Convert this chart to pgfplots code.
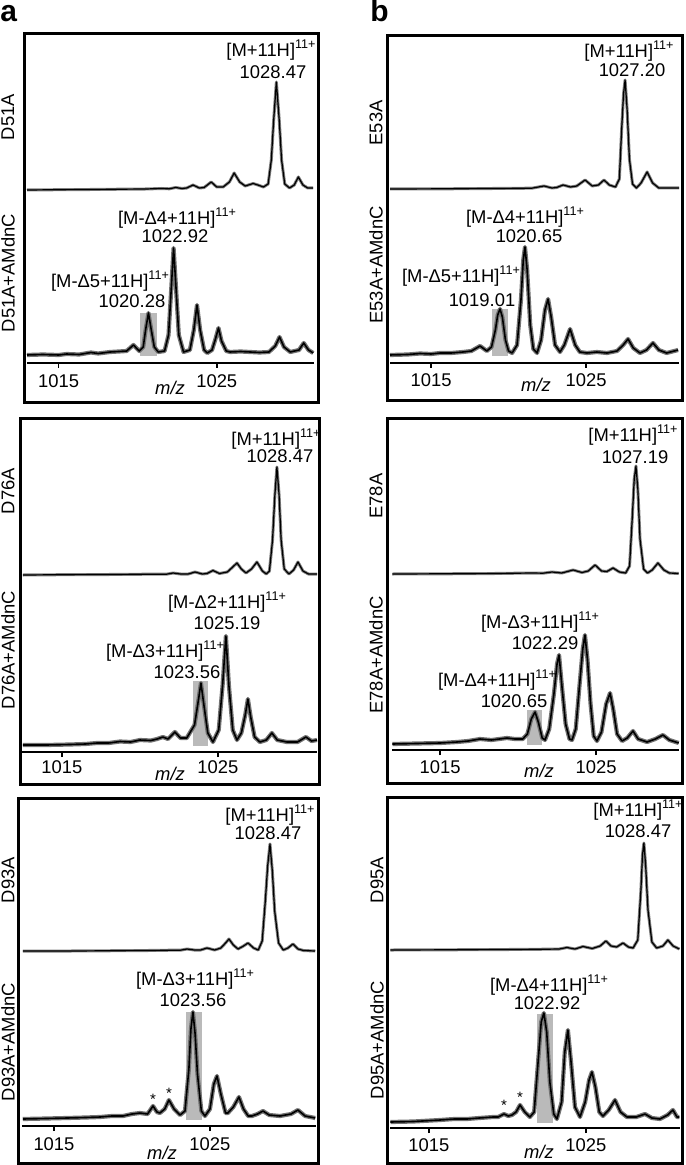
\documentclass[border=0pt]{standalone}
\usepackage{fontspec}
\setmainfont{Liberation Sans}
\usepackage{pgfplots}
\usepackage{pgfplotstable}
\pgfplotsset{compat=1.18}

\pgfplotstableread[row sep=\\]{x y\\
1013.0 0\\ 1015.0 0.3\\ 1017.0 0.5\\ 1019.0 0.8\\ 1020.5 1\\ 1021.5 1.5\\ 1022.0 1.2\\ 1022.4 2.5\\ 1022.8 1.5\\ 1023.1 2\\ 1023.5 5\\ 1023.9 2\\ 1024.2 2.5\\ 1024.65 8\\ 1025.0 3\\ 1025.4 3\\ 1025.8 8\\ 1026.1 17\\ 1026.45 8\\ 1026.8 4\\ 1027.0 5\\ 1027.3 6.5\\ 1027.6 5\\ 1027.95 3\\ 1028.25 6\\ 1028.45 30\\ 1028.6 70\\ 1028.77 108\\ 1028.95 70\\ 1029.1 30\\ 1029.3 6\\ 1029.6 2\\ 1029.9 5\\ 1030.16 13\\ 1030.45 5\\ 1030.75 2\\ 1031.1 2\\
}\aonet
\pgfplotstableread[row sep=\\]{x y\\
1013.0 0\\ 1014.0 0.5\\ 1015.0 0\\ 1015.5 1\\ 1016.3 0.5\\ 1017.04 2.5\\ 1017.5 1.5\\ 1018.26 3\\ 1018.8 3.5\\ 1019.3 4\\ 1019.73 10\\ 1020.1 4\\ 1020.35 8\\ 1020.5 25\\ 1020.68 42\\ 1020.86 25\\ 1021.05 8\\ 1021.3 3\\ 1021.7 4\\ 1021.95 20\\ 1022.1 60\\ 1022.27 107\\ 1022.45 60\\ 1022.6 20\\ 1022.9 3\\ 1023.3 5\\ 1023.55 25\\ 1023.75 50\\ 1023.95 25\\ 1024.2 5\\ 1024.4 2\\ 1024.7 5\\ 1024.9 15\\ 1025.11 27\\ 1025.3 14\\ 1025.6 4\\ 1025.85 3\\ 1026.5 3.5\\ 1027.12 3\\ 1027.7 2.5\\ 1028.3 3\\ 1028.7 9\\ 1028.97 18\\ 1029.25 8\\ 1029.65 3\\ 1030.2 5\\ 1030.5 12\\ 1030.8 5\\ 1031.1 2\\
}\aoneb
\pgfplotstableread[row sep=\\]{x y\\
1012.5 0\\ 1015 0.3\\ 1018 0.5\\ 1020.5 0.8\\ 1021.7 0.8\\ 1022.12 2\\ 1022.6 1\\ 1023.1 1\\ 1023.53 3\\ 1024.0 1\\ 1024.3 1.5\\ 1024.68 4.5\\ 1025.1 1.5\\ 1025.6 3\\ 1025.95 8\\ 1026.22 12\\ 1026.5 6\\ 1026.8 2\\ 1027.15 6\\ 1027.5 13\\ 1027.85 4\\ 1028.1 1\\ 1028.3 4\\ 1028.5 35\\ 1028.65 80\\ 1028.78 108\\ 1028.92 80\\ 1029.05 35\\ 1029.25 6\\ 1029.55 1\\ 1029.85 5\\ 1030.13 13\\ 1030.45 4\\ 1030.8 1\\ 1031.35 1\\
}\atwot
\pgfplotstableread[row sep=\\]{x y\\
1012.5 0\\ 1014.0 0\\ 1015.5 0.5\\ 1016.5 1\\ 1017.24 2\\ 1018.0 2\\ 1018.72 3.5\\ 1019.4 3\\ 1020.0 5\\ 1020.7 4.5\\ 1021.1 6\\ 1021.47 8\\ 1021.8 6\\ 1022.24 13\\ 1022.6 7\\ 1023.0 7\\ 1023.5 20\\ 1023.75 45\\ 1023.91 62\\ 1024.1 40\\ 1024.35 12\\ 1024.68 3\\ 1025.05 15\\ 1025.3 60\\ 1025.51 109\\ 1025.7 60\\ 1025.95 15\\ 1026.22 5\\ 1026.5 12\\ 1026.75 30\\ 1026.92 46\\ 1027.1 28\\ 1027.35 8\\ 1027.69 3\\ 1028.1 5\\ 1028.46 12\\ 1028.8 5\\ 1029.42 3\\ 1030.1 3\\ 1030.64 8\\ 1031.0 4\\ 1031.35 5\\
}\atwob
\pgfplotstableread[row sep=\\]{x y\\
1013.0 0\\ 1016 0\\ 1019 0.3\\ 1021 0.5\\ 1022.5 0.8\\ 1023.1 0.8\\ 1023.53 2\\ 1024.0 1\\ 1024.4 1\\ 1024.81 3\\ 1025.3 1\\ 1025.7 3\\ 1026.0 8\\ 1026.22 12\\ 1026.5 6\\ 1026.8 2\\ 1027.15 5\\ 1027.44 8\\ 1027.8 3\\ 1028.1 1\\ 1028.35 10\\ 1028.55 50\\ 1028.7 85\\ 1028.85 107\\ 1029.0 80\\ 1029.15 40\\ 1029.4 8\\ 1029.7 1\\ 1030.0 3\\ 1030.32 7\\ 1030.65 2\\ 1031.0 0.5\\ 1031.75 0\\
}\athreet
\pgfplotstableread[row sep=\\]{x y\\
1013.0 0\\ 1014.5 0.5\\ 1015.83 1\\ 1017.0 1.5\\ 1017.95 2\\ 1018.7 3\\ 1019.42 3\\ 1020.0 5\\ 1020.51 6\\ 1021.0 5\\ 1021.35 13\\ 1021.6 7\\ 1021.79 6\\ 1022.1 10\\ 1022.37 19\\ 1022.7 10\\ 1023.08 4\\ 1023.4 8\\ 1023.65 50\\ 1023.78 90\\ 1023.91 107\\ 1024.05 85\\ 1024.2 45\\ 1024.45 8\\ 1024.68 3\\ 1025.0 10\\ 1025.25 35\\ 1025.45 43\\ 1025.7 25\\ 1026.0 6\\ 1026.15 6\\ 1026.5 12\\ 1026.86 22\\ 1027.15 10\\ 1027.45 3\\ 1027.69 3\\ 1028.05 5\\ 1028.4 8\\ 1028.8 4\\ 1029.49 3\\ 1030.2 5\\ 1030.64 9\\ 1031.1 3\\ 1031.75 1\\
}\athreeb
\pgfplotstableread[row sep=\\]{x y\\
1012.35 0\\ 1016 0.2\\ 1019 0.5\\ 1021.5 0.8\\ 1022.29 3\\ 1022.8 1\\ 1023.1 1.5\\ 1023.52 4\\ 1024.0 2\\ 1024.4 3\\ 1024.94 9\\ 1025.4 3\\ 1025.8 4\\ 1026.16 9\\ 1026.5 4\\ 1026.9 2\\ 1027.15 10\\ 1027.3 60\\ 1027.42 95\\ 1027.52 109\\ 1027.65 80\\ 1027.8 30\\ 1028.0 5\\ 1028.25 1\\ 1028.55 6\\ 1028.94 17\\ 1029.3 6\\ 1029.7 1\\ 1030.3 1\\ 1031.0 1\\
}\bonet
\pgfplotstableread[row sep=\\]{x y\\
1012.35 0\\ 1013.5 0.5\\ 1014.29 1.5\\ 1015.0 1\\ 1015.58 2\\ 1016.3 2\\ 1017.06 3\\ 1017.6 4\\ 1018.16 9\\ 1018.6 4\\ 1018.9 8\\ 1019.15 25\\ 1019.3 40\\ 1019.45 46\\ 1019.6 38\\ 1019.8 15\\ 1020.0 4\\ 1020.23 2\\ 1020.55 10\\ 1020.8 55\\ 1020.95 95\\ 1021.06 108\\ 1021.2 85\\ 1021.4 30\\ 1021.6 6\\ 1021.84 2\\ 1022.1 15\\ 1022.35 45\\ 1022.55 56\\ 1022.75 38\\ 1023.0 10\\ 1023.32 3\\ 1023.6 10\\ 1023.97 26\\ 1024.3 10\\ 1024.6 3\\ 1025.06 2\\ 1025.7 3\\ 1026.35 2\\ 1027.0 4\\ 1027.4 10\\ 1027.71 16\\ 1028.05 7\\ 1028.48 2\\ 1028.9 5\\ 1029.32 12\\ 1029.7 5\\ 1030.2 2\\ 1030.94 5\\
}\boneb
\pgfplotstableread[row sep=\\]{x y\\
1011.95 0\\ 1015 0.2\\ 1018 0.4\\ 1020.9 1\\ 1021.6 0.8\\ 1022.18 2\\ 1022.8 1\\ 1023.53 4\\ 1024.1 1.5\\ 1024.5 3\\ 1024.94 9\\ 1025.35 3\\ 1025.7 2.5\\ 1026.09 6\\ 1026.5 2\\ 1026.9 1\\ 1027.15 8\\ 1027.32 55\\ 1027.45 95\\ 1027.56 108\\ 1027.68 85\\ 1027.82 35\\ 1028.05 5\\ 1028.3 1\\ 1028.6 4\\ 1028.97 11\\ 1029.35 4\\ 1029.7 1\\ 1030.3 0.5\\
}\btwot
\pgfplotstableread[row sep=\\]{x y\\
1011.95 0\\ 1013.5 0.5\\ 1015.0 1\\ 1016.09 2\\ 1016.8 3\\ 1017.56 5\\ 1018.3 4\\ 1018.8 5\\ 1019.29 6\\ 1019.8 5\\ 1020.3 5\\ 1020.6 10\\ 1020.85 25\\ 1021.09 32\\ 1021.3 22\\ 1021.55 6\\ 1021.73 4\\ 1022.0 15\\ 1022.3 50\\ 1022.5 80\\ 1022.63 89\\ 1022.8 60\\ 1023.05 20\\ 1023.3 5\\ 1023.46 4\\ 1023.7 15\\ 1023.95 60\\ 1024.15 95\\ 1024.29 109\\ 1024.45 85\\ 1024.65 40\\ 1024.85 8\\ 1025.06 3\\ 1025.35 12\\ 1025.65 40\\ 1025.9 51\\ 1026.1 35\\ 1026.35 10\\ 1026.67 3\\ 1027.0 6\\ 1027.37 13\\ 1027.7 5\\ 1028.27 2\\ 1028.8 5\\ 1029.29 9\\ 1029.7 4\\ 1030.3 1\\
}\btwob
\pgfplotstableread[row sep=\\]{x y\\
1012.55 0\\ 1016 0.2\\ 1020 0.5\\ 1022.5 0.8\\ 1023.3 1\\ 1023.79 2.5\\ 1024.3 1\\ 1024.81 3.5\\ 1025.4 1.5\\ 1025.9 4\\ 1026.27 9\\ 1026.6 4\\ 1026.95 3\\ 1027.36 7\\ 1027.7 3\\ 1028.0 2\\ 1028.3 10\\ 1028.5 60\\ 1028.6 95\\ 1028.69 107\\ 1028.8 85\\ 1028.95 40\\ 1029.2 8\\ 1029.5 2\\ 1029.9 4\\ 1030.22 10\\ 1030.55 4\\ 1030.95 1\\
}\bthreet
\pgfplotstableread[row sep=\\]{x y\\
1012.55 0\\ 1014.0 0.5\\ 1015.7 2\\ 1016.6 3\\ 1017.42 3\\ 1018.2 4\\ 1019.08 5\\ 1019.4 5\\ 1019.78 8\\ 1020.05 6\\ 1020.29 7\\ 1020.55 10\\ 1020.8 17\\ 1021.1 10\\ 1021.43 5\\ 1021.7 10\\ 1021.95 60\\ 1022.15 100\\ 1022.32 109\\ 1022.5 90\\ 1022.7 40\\ 1022.95 8\\ 1023.15 3\\ 1023.45 20\\ 1023.65 70\\ 1023.85 92\\ 1024.05 60\\ 1024.3 15\\ 1024.62 5\\ 1024.95 20\\ 1025.2 42\\ 1025.38 50\\ 1025.6 35\\ 1025.85 10\\ 1026.08 6\\ 1026.45 12\\ 1026.85 22\\ 1027.2 10\\ 1027.61 5\\ 1028.2 5\\ 1028.76 8\\ 1029.2 4\\ 1029.71 3\\ 1030.2 7\\ 1030.54 12\\ 1030.8 5\\ 1030.95 5\\
}\bthreeb

\pgfplotsset{
  topax/.style={scale only axis, clip=false, anchor=south west, axis lines=none, xtick=\empty, ytick=\empty},
  botax/.style={scale only axis, clip=false, anchor=south west, axis x line=bottom, axis y line=none,
    x axis line style={-, line width=1.1pt}, ytick=\empty, xtick={1015,1025}, xticklabels={,,},
    tick align=outside, major tick length=2.5pt, every tick/.style={black, line width=0.8pt}},
  halo/.style={black!55, line width=2.1pt, line join=round, no marks},
  halot/.style={black!50, line width=1.5pt, line join=round, no marks},
  core/.style={black, line width=0.8pt, line join=round, no marks},
  coret/.style={black, line width=0.6pt, line join=round, no marks},
}
\tikzset{
  lbl/.style={font=\fontsize{9.2}{10}\selectfont, inner sep=0pt, anchor=base},
  ylb/.style={font=\fontsize{9.2}{10}\selectfont, inner sep=0pt, anchor=center, rotate=90},
  hl/.style={fill=black!27},
  box/.style={line width=1.5pt},
}
\newcommand{\ch}{\raisebox{4pt}{\fontsize{6.3}{6}\selectfont 11+}}

\begin{document}
\begin{tikzpicture}
\useasboundingbox (0,0) rectangle (342.5pt,-582.5pt);

% ---------- a1 ----------
\begin{axis}[topax, at={(13.5pt,-95pt)}, width=143.5pt, height=76.5pt, xmin=1013.0, xmax=1031.15, ymin=0, ymax=153]
\addplot[halot] table {\aonet};
\addplot[coret] table {\aonet};
\end{axis}
\begin{axis}[botax, at={(13.5pt,-181.5pt)}, width=143.5pt, height=86.5pt, xmin=1013.0, xmax=1031.15, ymin=-8, ymax=165]
\fill[hl] (axis cs:1020.16,-1) rectangle (axis cs:1021.23,42);
\addplot[halo] table {\aoneb};
\addplot[core] table {\aoneb};
\node[lbl, yshift=-12.5pt] at (axis cs:1015,-8) {1015};
\node[lbl, yshift=-12.5pt] at (axis cs:1025,-8) {1025};
\end{axis}

% ---------- b1 ----------
\begin{axis}[topax, at={(195pt,-94.5pt)}, width=144.5pt, height=75pt, xmin=1012.35, xmax=1031.0, ymin=0, ymax=150]
\addplot[halot] table {\bonet};
\addplot[coret] table {\bonet};
\end{axis}
\begin{axis}[botax, at={(195pt,-181.5pt)}, width=144.5pt, height=87pt, xmin=1012.35, xmax=1031.0, ymin=-8, ymax=166]
\fill[hl] (axis cs:1018.94,-1) rectangle (axis cs:1019.97,46);
\addplot[halo] table {\boneb};
\addplot[core] table {\boneb};
\node[lbl, yshift=-12pt] at (axis cs:1015,-8) {1015};
\node[lbl, yshift=-12pt] at (axis cs:1025,-8) {1025};
\end{axis}

% ---------- a2 ----------
\begin{axis}[topax, at={(11pt,-287.5pt)}, width=147.5pt, height=75pt, xmin=1012.44, xmax=1031.35, ymin=0, ymax=150]
\addplot[halot] table {\atwot};
\addplot[coret] table {\atwot};
\end{axis}
\begin{axis}[botax, at={(11pt,-376pt)}, width=147.5pt, height=88.5pt, xmin=1012.44, xmax=1031.35, ymin=-7, ymax=170]
\fill[hl] (axis cs:1023.4,-1) rectangle (axis cs:1024.36,64);
\addplot[halo] table {\atwob};
\addplot[core] table {\atwob};
\node[lbl, yshift=-10.5pt] at (axis cs:1015,-7) {1015};
\node[lbl, yshift=-10.5pt] at (axis cs:1025,-7) {1025};
\end{axis}

% ---------- b2 ----------
\begin{axis}[topax, at={(196pt,-287pt)}, width=143.5pt, height=75pt, xmin=1011.92, xmax=1030.32, ymin=0, ymax=150]
\addplot[halot] table {\btwot};
\addplot[coret] table {\btwot};
\end{axis}
\begin{axis}[botax, at={(196pt,-375pt)}, width=143.5pt, height=88pt, xmin=1011.92, xmax=1030.32, ymin=-6, ymax=170]
\fill[hl] (axis cs:1020.58,-1) rectangle (axis cs:1021.54,34);
\addplot[halo] table {\btwob};
\addplot[core] table {\btwob};
\node[lbl, yshift=-11.5pt] at (axis cs:1015,-6) {1015};
\node[lbl, yshift=-11.5pt] at (axis cs:1025,-6) {1025};
\end{axis}

% ---------- a3 ----------
\begin{axis}[topax, at={(11pt,-475.5pt)}, width=147pt, height=75pt, xmin=1012.95, xmax=1031.8, ymin=0, ymax=150]
\addplot[halot] table {\athreet};
\addplot[coret] table {\athreet};
\end{axis}
\begin{axis}[botax, at={(11pt,-563pt)}, width=147pt, height=87.5pt, xmin=1012.95, xmax=1031.8, ymin=-7, ymax=168]
\fill[hl] (axis cs:1023.46,-1) rectangle (axis cs:1024.49,107);
\addplot[halo] table {\athreeb};
\addplot[core] table {\athreeb};
\node[lbl, yshift=-12pt] at (axis cs:1015,-7) {1015};
\node[lbl, yshift=-12pt] at (axis cs:1025,-7) {1025};
\end{axis}

% ---------- b3 ----------
\begin{axis}[topax, at={(195pt,-475pt)}, width=145pt, height=75pt, xmin=1012.52, xmax=1030.99, ymin=0, ymax=150]
\addplot[halot] table {\bthreet};
\addplot[coret] table {\bthreet};
\end{axis}
\begin{axis}[botax, at={(195pt,-564pt)}, width=145pt, height=89pt, xmin=1012.52, xmax=1030.99, ymin=-6, ymax=172]
\fill[hl] (axis cs:1021.88,-1) rectangle (axis cs:1022.9,108);
\addplot[halo] table {\bthreeb};
\addplot[core] table {\bthreeb};
\node[lbl, yshift=-11.5pt] at (axis cs:1015,-6) {1015};
\node[lbl, yshift=-11.5pt] at (axis cs:1025,-6) {1025};
\end{axis}

% ---------- frames ----------
\draw[box] (12pt,-17pt) rectangle (159pt,-201.5pt);
\draw[box] (193.5pt,-18pt) rectangle (341pt,-200.5pt);
\draw[box] (10pt,-209pt) rectangle (159.5pt,-392pt);
\draw[box] (193.5pt,-209pt) rectangle (341pt,-391.5pt);
\draw[box] (9pt,-399pt) rectangle (159pt,-581.5pt);
\draw[box] (193.5pt,-398.5pt) rectangle (341pt,-581.5pt);

% ---------- panel letters ----------
\node[font=\bfseries\fontsize{15}{15}\selectfont, inner sep=0pt, anchor=base west] at (0pt,-11pt) {a};
\node[font=\bfseries\fontsize{15}{15}\selectfont, inner sep=0pt, anchor=base west] at (185pt,-11pt) {b};

% ---------- y labels ----------
\node[ylb] at (4pt,-58.5pt) {D51A};
\node[ylb] at (4pt,-136.5pt) {D51A+AMdnC};
\node[ylb] at (188pt,-61.5pt) {E53A};
\node[ylb] at (188pt,-132.5pt) {E53A+AMdnC};
\node[ylb] at (4pt,-245.5pt) {D76A};
\node[ylb] at (4pt,-325pt) {D76A+AMdnC};
\node[ylb] at (188pt,-248pt) {E78A};
\node[ylb] at (188pt,-327.5pt) {E78A+AMdnC};
\node[ylb] at (4pt,-440pt) {D93A};
\node[ylb] at (4pt,-521pt) {D93A+AMdnC};
\node[ylb] at (188.5pt,-440pt) {D95A};
\node[ylb] at (188.5pt,-520pt) {D95A+AMdnC};

% ---------- m/z ----------
\node[lbl] at (85pt,-197pt) {\textit{m/z}};
\node[lbl] at (268pt,-196pt) {\textit{m/z}};
\node[lbl] at (85pt,-390pt) {\textit{m/z}};
\node[lbl] at (269.5pt,-388.5pt) {\textit{m/z}};
\node[lbl] at (81pt,-579.5pt) {\textit{m/z}};
\node[lbl] at (269.5pt,-579pt) {\textit{m/z}};

% ---------- peak labels ----------
\node[lbl] at (135.5pt,-28.5pt) {[M+11H]\ch};
\node[lbl] at (136.5pt,-39.5pt) {1028.47};
\node[lbl] at (88.5pt,-112.5pt) {[M-Δ4+11H]\ch};
\node[lbl] at (87.5pt,-121.5pt) {1022.92};
\node[lbl] at (55pt,-144pt) {[M-Δ5+11H]\ch};
\node[lbl] at (66pt,-154pt) {1020.28};

\node[lbl] at (314.5pt,-29pt) {[M+11H]\ch};
\node[lbl] at (316pt,-38.5pt) {1027.20};
\node[lbl] at (262.5pt,-112pt) {[M-Δ4+11H]\ch};
\node[lbl] at (264.5pt,-121.5pt) {1020.65};
\node[lbl] at (230.5pt,-141.5pt) {[M-Δ5+11H]\ch};
\node[lbl] at (241pt,-153.5pt) {1019.01};

\node[lbl] at (138pt,-222.5pt) {[M+11H]\ch};
\node[lbl] at (140pt,-231pt) {1028.47};
\node[lbl] at (113.5pt,-304pt) {[M-Δ2+11H]\ch};
\node[lbl] at (113.5pt,-314.5pt) {1025.19};
\node[lbl] at (82.5pt,-328.5pt) {[M-Δ3+11H]\ch};
\node[lbl] at (93.5pt,-339pt) {1023.56};

\node[lbl] at (316.5pt,-220.5pt) {[M+11H]\ch};
\node[lbl] at (317.5pt,-231.5pt) {1027.19};
\node[lbl] at (270pt,-314pt) {[M-Δ3+11H]\ch};
\node[lbl] at (272.5pt,-324.5pt) {1022.29};
\node[lbl] at (248.5pt,-343pt) {[M-Δ4+11H]\ch};
\node[lbl] at (257pt,-353.5pt) {1020.65};

\node[lbl] at (135pt,-410.5pt) {[M+11H]\ch};
\node[lbl] at (134pt,-419.5pt) {1028.47};
\node[lbl] at (97.5pt,-492.5pt) {[M-Δ3+11H]\ch};
\node[lbl] at (96.5pt,-503pt) {1023.56};

\node[lbl] at (319pt,-408pt) {[M+11H]\ch};
\node[lbl] at (319pt,-418.5pt) {1028.47};
\node[lbl] at (274.5pt,-495.5pt) {[M-Δ4+11H]\ch};
\node[lbl] at (273.5pt,-504.5pt) {1022.92};

% ---------- asterisks ----------
\node[font=\fontsize{7.5}{7}\selectfont, inner sep=0pt] at (76.5pt,-549.5pt) {*};
\node[font=\fontsize{7.5}{7}\selectfont, inner sep=0pt] at (84.5pt,-546.5pt) {*};
\node[font=\fontsize{7.5}{7}\selectfont, inner sep=0pt] at (252pt,-552.5pt) {*};
\node[font=\fontsize{7.5}{7}\selectfont, inner sep=0pt] at (260pt,-548.5pt) {*};
\end{tikzpicture}
\end{document}
